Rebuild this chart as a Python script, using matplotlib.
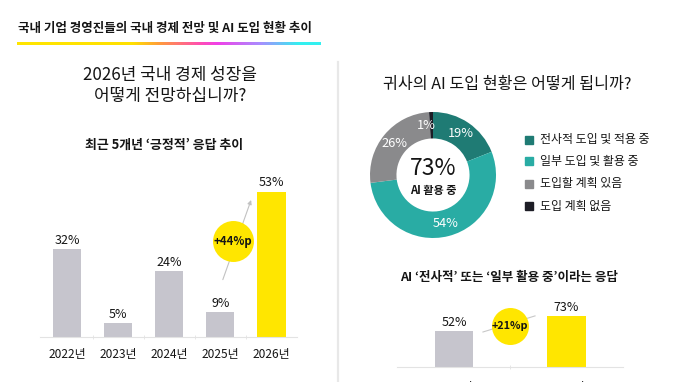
import numpy as np
import matplotlib
matplotlib.use('Agg')
import matplotlib.pyplot as plt
from matplotlib.patches import Rectangle
from matplotlib.colors import LinearSegmentedColormap

plt.rcParams['font.family'] = ['Noto Sans CJK KR', 'DejaVu Sans']

W, H = 678, 382

# data
years_left = ['2022년', '2023년', '2024년', '2025년', '2026년']
positive_pct = [32, 5, 24, 9, 53]
ai_labels = ['전사적 도입 및 적용 중', '일부 도입 및 활용 중', '도입할 계획 있음', '도입 계획 없음']
ai_pct = [19, 54, 26, 1]
years_right = ['2025년', '2026년']
ai_using_pct = [52, 73]

GREY_BAR = '#c6c5cd'
YELLOW = '#ffe600'
DONUT_COLORS = ['#1f7b74', '#29aca4', '#8a8a8c', '#1d1d26']
TXT = '#151515'


def box(x0, y0, x1, y1):
    return [x0 / W, 1 - y1 / H, (x1 - x0) / W, (y1 - y0) / H]


fig = plt.figure(figsize=(W / 100, H / 100), dpi=100)

# overlay in pixel coords
ov = fig.add_axes([0, 0, 1, 1])
ov.set_xlim(0, W)
ov.set_ylim(H, 0)
ov.axis('off')

ov.text(18, 28, '국내 기업 경영진들의 국내 경제 전망 및 AI 도입 현황 추이', fontsize=9.0,
        color=TXT, va='center', ha='left', fontweight='bold')
grad = LinearSegmentedColormap.from_list('g', [(0, '#ffe600'), (0.38, '#ffe000'), (0.47, '#ff9a3c'),
                                               (0.6, '#ff4fb0'), (0.66, '#f040e8'), (0.8, '#a98cff'),
                                               (0.93, '#33f0f0'), (1, '#33f0f0')])
ov.imshow(np.linspace(0, 1, 256).reshape(1, -1), cmap=grad, aspect='auto',
          extent=(17, 321, 44.6, 42.4), zorder=2)
ov.set_xlim(0, W)
ov.set_ylim(H, 0)

ov.plot([338, 338], [62, 382], color='#e8e8e8', lw=1.6)

ov.text(170, 75, '2026년 국내 경제 성장을', fontsize=12.2, ha='center', va='center', color=TXT)
ov.text(170, 96, '어떻게 전망하십니까?', fontsize=12.2, ha='center', va='center', color=TXT)
ov.text(164, 145, '최근 5개년 ‘긍정적’ 응답 추이', fontsize=9.3, ha='center', va='center',
        color=TXT, fontweight='bold')

ov.text(507, 84, '귀사의 AI 도입 현황은 어떻게 됩니까?', fontsize=11.6, ha='center', va='center', color=TXT)
ov.text(509, 278, 'AI ‘전사적’ 또는 ‘일부 활용 중’이라는 응답', fontsize=9.0, ha='center', va='center',
        color=TXT, fontweight='bold')

leg_y = [140, 161, 184, 206]
for lab, col, y in zip(ai_labels, DONUT_COLORS, leg_y):
    ov.add_patch(Rectangle((525, y - 4), 8, 8, color=col))
    ov.text(540, y, lab, fontsize=8.6, va='center', ha='left', color=TXT)

# left bar chart
ax1 = fig.add_axes(box(40, 170, 297, 337))
x1 = np.arange(len(years_left))
ax1.bar(x1, positive_pct, width=0.55, color=[GREY_BAR] * 4 + [YELLOW], zorder=2)
for i, v in enumerate(positive_pct):
    ax1.text(i, v + 0.9, f'{v}%', ha='center', va='bottom', fontsize=9, color=TXT)
ax1.set_xlim(-0.53, 4.5)
ax1.set_ylim(0, 61)
ax1.set_xticks(x1)
ax1.set_xticklabels(years_left, fontsize=8.6, color=TXT)
ax1.set_xticks(np.arange(0.5, 4, 1), minor=True)
ax1.tick_params(axis='x', which='major', length=0, pad=8)
ax1.tick_params(axis='x', which='minor', length=3, color='#e3e3e3', direction='inout')
ax1.set_yticks([])
for s in ['top', 'right', 'left']:
    ax1.spines[s].set_visible(False)
ax1.spines['bottom'].set_color('#e3e3e3')
ax1.patch.set_alpha(0)
ax1.annotate('', xy=(3.62, 51), xytext=(3.03, 20),
             arrowprops=dict(arrowstyle='-|>', color='#c2c2c2', lw=0.8, mutation_scale=6), zorder=3)
ax1.scatter([3.25], [35], s=870, color=YELLOW, zorder=4, linewidths=0)
ax1.text(3.25, 35, '+44%p', ha='center', va='center', fontsize=8.2, fontweight='bold', color=TXT, zorder=5)

# donut
ax2 = fig.add_axes(box(370, 112, 496, 238))
ax2.pie(ai_pct, colors=DONUT_COLORS, startangle=90, counterclock=False, radius=1,
        wedgeprops=dict(width=0.42, linewidth=0))
ax2.set_xlim(-1, 1)
ax2.set_ylim(-1, 1)
start = 90
for v in ai_pct:
    mid = np.deg2rad(start - v * 3.6 / 2)
    off = 0.1 if v == 1 else 0
    ax2.text(0.79 * np.cos(mid + off), 0.79 * np.sin(mid + off), f'{v}%', ha='center', va='center',
             fontsize=9.2, color='white')
    start -= v * 3.6
ax2.text(0, 0.11, '73%', ha='center', va='center', fontsize=16.5, color=TXT)
ax2.text(0, -0.25, 'AI 활용 중', ha='center', va='center', fontsize=8, fontweight='bold', color=TXT)

# right bar chart
ax3 = fig.add_axes(box(397, 290, 623, 367))
x3 = np.arange(len(years_right))
ax3.bar(x3, ai_using_pct, width=0.34, color=[GREY_BAR, YELLOW], zorder=2)
for i, v in enumerate(ai_using_pct):
    ax3.text(i, v + 3, f'{v}%', ha='center', va='bottom', fontsize=9, color=TXT)
ax3.set_xlim(-0.507, 1.502)
ax3.set_ylim(0, 110)
ax3.set_xticks(x3)
ax3.set_xticklabels(years_right, fontsize=8.6, color=TXT)
ax3.set_xticks([0.5], minor=True)
ax3.tick_params(axis='x', which='major', length=0, pad=10)
ax3.tick_params(axis='x', which='minor', length=3, color='#e3e3e3', direction='inout')
ax3.set_yticks([])
for s in ['top', 'right', 'left']:
    ax3.spines[s].set_visible(False)
ax3.spines['bottom'].set_color('#e3e3e3')
ax3.patch.set_alpha(0)
ax3.plot([0.257, 0.72], [50, 73], color='#c8c8c8', lw=0.8, zorder=3)
ax3.scatter([0.497], [58.6], s=710, color=YELLOW, zorder=4, linewidths=0)
ax3.text(0.497, 58.6, '+21%p', ha='center', va='center', fontsize=7.8, fontweight='bold', color=TXT, zorder=5)

fig.savefig('out.png', dpi=100)
